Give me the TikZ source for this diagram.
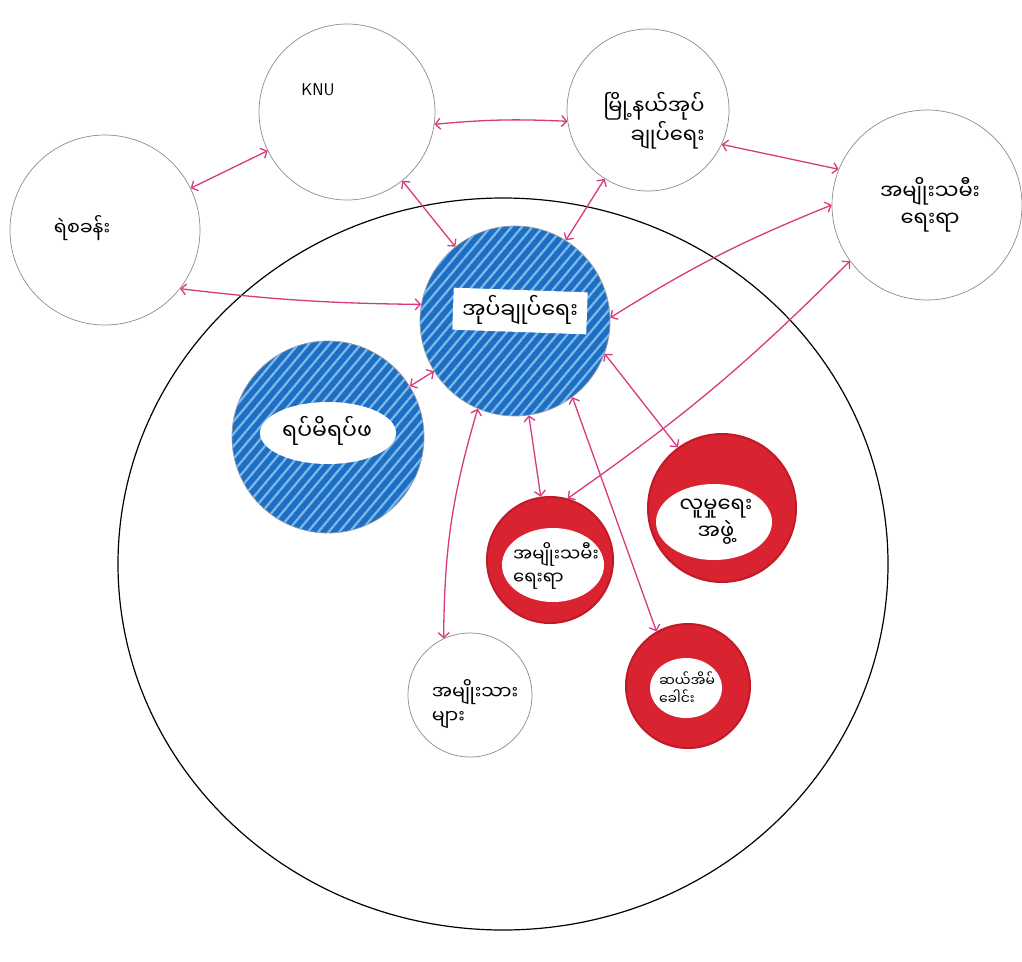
\documentclass[tikz,border=0pt]{standalone}
\usepackage{fontspec}
\newfontfamily\my[Script=Myanmar]{Noto Sans Myanmar UI}
\usetikzlibrary{arrows.meta,patterns,patterns.meta,shapes.geometric}
\definecolor{pinkarr}{HTML}{D8397F}
\definecolor{bluefill}{HTML}{1E6FC4}
\definecolor{bluelite}{HTML}{7DB9EA}
\definecolor{redfill}{HTML}{DA2330}
\definecolor{reddark}{HTML}{C01A28}
\begin{document}
\begin{tikzpicture}[x=1pt,y=-1pt,
  >={Straight Barb[length=5pt,width=11pt]},
  stake/.style={circle,draw=black!45,line width=0.7pt,fill=white,inner sep=0pt},
  bluestake/.style={circle,draw=black!40,line width=0.7pt,fill=bluefill,inner sep=0pt,
     postaction={pattern={Lines[angle=50,distance=8pt,line width=2.2pt]},pattern color=bluelite}},
  redstake/.style={circle,draw=reddark,line width=2pt,fill=redfill,inner sep=0pt},
  conn/.style={draw=pinkarr,line width=1.3pt,<->},
  mm/.style={font=\my\fontsize{#1}{\fpeval{1.3*#1}}\selectfont,align=center,inner sep=1pt},
  mm/.default=17,
  hole/.style={fill=white,ellipse,inner sep=0pt},
]
\useasboundingbox (0,0) rectangle (1022,961);
\fill[white] (0,0) rectangle (1022,961);
\node[draw=black,line width=1.2pt,ellipse,minimum width=770,minimum height=732,inner sep=0pt] (area) at (503,564) {};

% stakeholder circles
\node[stake,minimum size=190] (left) at (105,230) {};
\node[stake,minimum size=176] (knu) at (347,112) {};
\node[stake,minimum size=162] (town) at (648,110) {};
\node[stake,minimum size=190] (women) at (927,205) {};
\node[bluestake,minimum size=190] (admin) at (515,321) {};
\node[bluestake,minimum size=192] (elders) at (328,437) {};
\node[redstake,minimum size=126] (womenin) at (550,560) {};
\node[redstake,minimum size=148] (social) at (722,508) {};
\node[stake,minimum size=124] (men) at (470,695) {};
\node[redstake,minimum size=124] (tenhouse) at (688,686) {};

% connectors
\draw[conn] (left) -- (knu);
\draw[conn] (knu.-8) to[bend left=4] (town.188);
\draw[conn] (town.-25) -- (women.158);
\draw[conn] (knu) -- (admin);
\draw[conn] (town) -- (admin);
\draw[conn] (left.-38) to[bend right=3] (admin.170);
\draw[conn] (women.180) to[bend right=5] (admin.2);
\draw[conn] (admin) -- (elders);
\draw[conn] (women.216) to[bend left=5] (womenin.74);
\draw[conn] (admin.247) to[bend right=8] (men.115);
\draw[conn] (admin) -- (womenin);
\draw[conn] (admin.307) -- (tenhouse.120);
\draw[conn] (admin.-20) -- (social.126);

% white areas inside the filled circles
\node[fill=white,minimum width=134,minimum height=42,inner sep=0pt,rotate=-2] (adminhole) at (520,311) {};
\node[hole,minimum width=136,minimum height=62] (eldershole) at (328,433) {};
\node[hole,minimum width=102,minimum height=74] (womeninhole) at (553,565) {};
\node[hole,minimum width=116,minimum height=76] (socialhole) at (714,522) {};
\node[hole,minimum width=72,minimum height=60] (tenhole) at (686,688) {};

% labels
\node[mm=22] (adminlbl) at (520,310) {အုပ်ချုပ်ရေး};
\node[mm=22] (elderslbl) at (327,431) {ရပ်မိရပ်ဖ};
\node[mm=18,align=left] (womeninlbl) at (556,566) {အမျိုးသမီး\\ရေးရာ};
\node[mm=21] (sociallbl) at (716,522) {လူမှုရေး\\အဖွဲ့};
\node[mm=14,align=left] (tenlbl) at (687,688) {ဆယ်အိမ်\\ခေါင်း};
\node[font=\sffamily\fontsize{17}{20}\selectfont] (knulbl) at (318,90) {KNU};
\node[mm=19] (leftlbl) at (82,228) {ရဲစခန်း};
\node[mm=21,align=right] (townlbl) at (654,121) {မြို့နယ်အုပ်\\ချုပ်ရေး};
\node[mm=21] (womenlbl) at (930,205) {အမျိုးသမီး\\ရေးရာ};
\node[mm=19,align=left] (menlbl) at (475,704) {အမျိုးသား\\များ};
\end{tikzpicture}
\end{document}
